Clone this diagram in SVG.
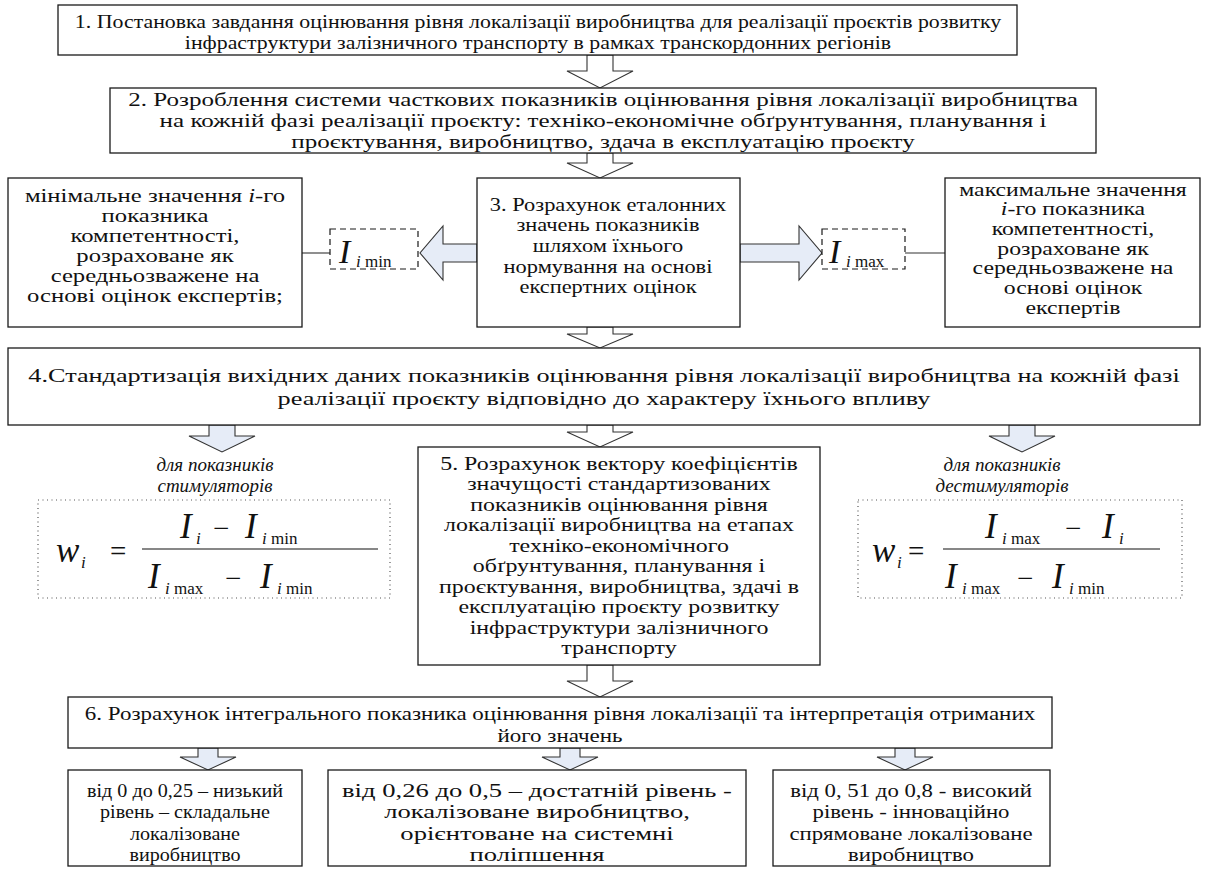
<svg xmlns="http://www.w3.org/2000/svg" width="1206" height="870" viewBox="0 0 1206 870">
<style>
.box{fill:#fff;stroke:#1a1a1a;stroke-width:1.3}
.dash{fill:#fff;stroke:#1a1a1a;stroke-width:1.2;stroke-dasharray:6,4}
.dot{fill:none;stroke:#555;stroke-width:1.2;stroke-dasharray:1,3.5}
.t{font-family:"Liberation Serif","Times New Roman",serif;font-size:19px;fill:#111;text-anchor:middle}
.it{font-style:italic}
.w{fill:#fff;stroke:#333;stroke-width:1.1}
.b{fill:#e6ecf7;stroke:#333;stroke-width:1.1}
.f{font-family:"Liberation Serif","Times New Roman",serif;fill:#111}
</style>
<rect width="1206" height="870" fill="#fff"/>
<g id="connectors">
<path class="w" d="M587,55 V71 H567 L600,88 L633,71 H613 V55 Z"/>
<path class="w" d="M587,153 V163 H567 L600,178 L633,163 H613 V153 Z"/>
<path class="b" d="M477,244 H443 V226 L420,253 L443,280 V262 H477 Z"/>
<path class="b" d="M740,244 H799 V226 L822,253 L799,280 V262 H740 Z"/>
<line x1="302" y1="253" x2="330" y2="253" stroke="#333" stroke-width="1.1"/>
<line x1="905" y1="253" x2="945" y2="253" stroke="#333" stroke-width="1.1"/>
<path class="w" d="M587,327 V334 H567 L600,348 L633,334 H613 V327 Z"/>
<path class="b" d="M209,425 V436 H189 L222,452 L255,436 H235 V425 Z"/>
<path class="w" d="M587,425 V432 H567 L600,447 L633,432 H613 V425 Z"/>
<path class="b" d="M1009,425 V436 H989 L1022,452 L1055,436 H1035 V425 Z"/>
<path class="w" d="M587,665 V681 H567 L600,697 L633,681 H613 V665 Z"/>
<path class="b" d="M198,748 V757 H180 L208,770 L236,757 H218 V748 Z"/>
<path class="b" d="M560,748 V757 H542 L570,770 L598,757 H580 V748 Z"/>
<path class="b" d="M895,748 V757 H877 L905,770 L933,757 H915 V748 Z"/>
</g>
<g id="n1"><rect class="box" x="58" y="5" width="959" height="50"/>
<g transform="translate(538,0) scale(1.15,1)">
<text class="t" x="0" y="28">1. Постановка завдання оцінювання рівня локалізації виробництва для реалізації проєктів розвитку</text>
<text class="t" x="0" y="49">інфраструктури залізничного транспорту в рамках транскордонних регіонів</text></g></g>
<g id="n2"><rect class="box" x="110" y="88" width="986" height="65"/>
<g transform="translate(603,0) scale(1.32,1)">
<text class="t" x="0" y="106">2. Розроблення системи часткових показників оцінювання рівня локалізації виробництва</text>
<text class="t" x="0" y="127">на кожній фазі реалізації проєкту: техніко-економічне обґрунтування, планування і</text>
<text class="t" x="0" y="148">проєктування, виробництво, здача в експлуатацію проєкту</text></g></g>
<g id="nmin"><rect class="box" x="8" y="178" width="294" height="149"/>
<g transform="translate(155,0) scale(1.3,1)">
<text class="t" x="0" y="202">мінімальне значення <tspan class="it">i</tspan>-го</text>
<text class="t" x="0" y="222">показника</text>
<text class="t" x="0" y="242">компетентності,</text>
<text class="t" x="0" y="262">розраховане як</text>
<text class="t" x="0" y="282">середньозважене на</text>
<text class="t" x="0" y="302">основі оцінок експертів;</text></g></g>
<g id="imin"><rect class="dash" x="330" y="229" width="88" height="40"/>
<text class="f" x="339" y="263" font-size="34" font-style="italic">I</text>
<text class="f" x="356" y="267" font-size="17"><tspan font-style="italic">i</tspan> min</text></g>
<g id="n3"><rect class="box" x="477" y="178" width="263" height="149"/>
<g transform="translate(608,0) scale(1.18,1)">
<text class="t" x="0" y="211">3. Розрахунок еталонних</text>
<text class="t" x="0" y="231">значень показників</text>
<text class="t" x="0" y="252">шляхом їхнього</text>
<text class="t" x="0" y="273">нормування на основі</text>
<text class="t" x="0" y="293">експертних оцінок</text></g></g>
<g id="imax"><rect class="dash" x="822" y="229" width="83" height="40"/>
<text class="f" x="829" y="263" font-size="34" font-style="italic">I</text>
<text class="f" x="846" y="267" font-size="17"><tspan font-style="italic">i</tspan> max</text></g>
<g id="nmax"><rect class="box" x="945" y="178" width="255" height="149"/>
<g transform="translate(1073,0) scale(1.25,1)">
<text class="t" x="0" y="196">максимальне значення</text>
<text class="t" x="0" y="215"><tspan class="it">i</tspan>-го показника</text>
<text class="t" x="0" y="235">компетентності,</text>
<text class="t" x="0" y="255">розраховане як</text>
<text class="t" x="0" y="274">середньозважене на</text>
<text class="t" x="0" y="294">основі оцінок</text>
<text class="t" x="0" y="314">експертів</text></g></g>
<g id="n4"><rect class="box" x="8" y="348" width="1192" height="77"/>
<g transform="translate(604,0) scale(1.38,1)">
<text class="t" x="0" y="382">4.Стандартизація вихідних даних показників оцінювання рівня локалізації виробництва на кожній фазі</text>
<text class="t" x="0" y="405">реалізації проєкту відповідно до характеру їхнього впливу</text></g></g>
<g id="stim"><text class="t it" x="215" y="471">для показників</text>
<text class="t it" x="215" y="492">стимуляторів</text>
<rect class="dot" x="38" y="500" width="352" height="98"/>
<text class="f" x="56" y="562" font-size="35" font-style="italic">w</text>
<text class="f" x="81" y="568" font-size="17" font-style="italic">i</text>
<text class="f" x="110" y="561" font-size="29">=</text>
<line x1="142" y1="549" x2="378" y2="549" stroke="#111" stroke-width="1.2"/>
<text class="f" x="180" y="538" font-size="35" font-style="italic">I</text>
<text class="f" x="196" y="544" font-size="17" font-style="italic">i</text>
<text class="f" x="213" y="538" font-size="29">−</text>
<text class="f" x="245" y="538" font-size="35" font-style="italic">I</text>
<text class="f" x="262" y="544" font-size="17"><tspan font-style="italic">i</tspan> min</text>
<text class="f" x="148" y="588" font-size="35" font-style="italic">I</text>
<text class="f" x="165" y="594" font-size="17"><tspan font-style="italic">i</tspan> max</text>
<text class="f" x="225" y="588" font-size="29">−</text>
<text class="f" x="260" y="588" font-size="35" font-style="italic">I</text>
<text class="f" x="277" y="594" font-size="17"><tspan font-style="italic">i</tspan> min</text></g>
<g id="n5"><rect class="box" x="418" y="447" width="402" height="218"/>
<g transform="translate(619,0) scale(1.26,1)">
<text class="t" x="0" y="470">5. Розрахунок вектору коефіцієнтів</text>
<text class="t" x="0" y="490">значущості стандартизованих</text>
<text class="t" x="0" y="511">показників оцінювання рівня</text>
<text class="t" x="0" y="531">локалізації виробництва на етапах</text>
<text class="t" x="0" y="552">техніко-економічного</text>
<text class="t" x="0" y="572">обґрунтування, планування і</text>
<text class="t" x="0" y="593">проєктування, виробництва, здачі в</text>
<text class="t" x="0" y="613">експлуатацію проєкту розвитку</text>
<text class="t" x="0" y="634">інфраструктури залізничного</text>
<text class="t" x="0" y="654">транспорту</text></g></g>
<g id="destim"><text class="t it" x="1002" y="471">для показників</text>
<text class="t it" x="1002" y="492">дестимуляторів</text>
<rect class="dot" x="858" y="500" width="324" height="98"/>
<text class="f" x="872" y="562" font-size="35" font-style="italic">w</text>
<text class="f" x="897" y="568" font-size="17" font-style="italic">i</text>
<text class="f" x="908" y="561" font-size="29">=</text>
<line x1="943" y1="549" x2="1160" y2="549" stroke="#111" stroke-width="1.2"/>
<text class="f" x="985" y="538" font-size="35" font-style="italic">I</text>
<text class="f" x="1002" y="544" font-size="17"><tspan font-style="italic">i</tspan> max</text>
<text class="f" x="1065" y="538" font-size="29">−</text>
<text class="f" x="1102" y="538" font-size="35" font-style="italic">I</text>
<text class="f" x="1119" y="544" font-size="17" font-style="italic">i</text>
<text class="f" x="945" y="588" font-size="35" font-style="italic">I</text>
<text class="f" x="962" y="594" font-size="17"><tspan font-style="italic">i</tspan> max</text>
<text class="f" x="1017" y="588" font-size="29">−</text>
<text class="f" x="1052" y="588" font-size="35" font-style="italic">I</text>
<text class="f" x="1069" y="594" font-size="17"><tspan font-style="italic">i</tspan> min</text></g>
<g id="n6"><rect class="box" x="68" y="697" width="984" height="51"/>
<g transform="translate(560,0) scale(1.21,1)">
<text class="t" x="0" y="720">6. Розрахунок інтегрального показника оцінювання рівня локалізації та інтерпретація отриманих</text>
<text class="t" x="0" y="742">його значень</text></g></g>
<g id="r1"><rect class="box" x="68" y="770" width="234" height="96"/>
<g transform="translate(185,0) scale(1.06,1)">
<text class="t" x="0" y="797">від 0 до 0,25 – низький</text>
<text class="t" x="0" y="818">рівень – складальне</text>
<text class="t" x="0" y="840">локалізоване</text>
<text class="t" x="0" y="861">виробництво</text></g></g>
<g id="r2"><rect class="box" x="328" y="770" width="418" height="96"/>
<g transform="translate(537,0) scale(1.4,1)">
<text class="t" x="0" y="797">від 0,26 до 0,5 – достатній рівень -</text>
<text class="t" x="0" y="818">локалізоване виробництво,</text>
<text class="t" x="0" y="840">орієнтоване на системні</text>
<text class="t" x="0" y="861">поліпшення</text></g></g>
<g id="r3"><rect class="box" x="773" y="770" width="277" height="96"/>
<g transform="translate(911,0) scale(1.2,1)">
<text class="t" x="0" y="797">від 0, 51 до 0,8 - високий</text>
<text class="t" x="0" y="818">рівень -  інноваційно</text>
<text class="t" x="0" y="840">спрямоване локалізоване</text>
<text class="t" x="0" y="861">виробництво</text></g></g>
</svg>
